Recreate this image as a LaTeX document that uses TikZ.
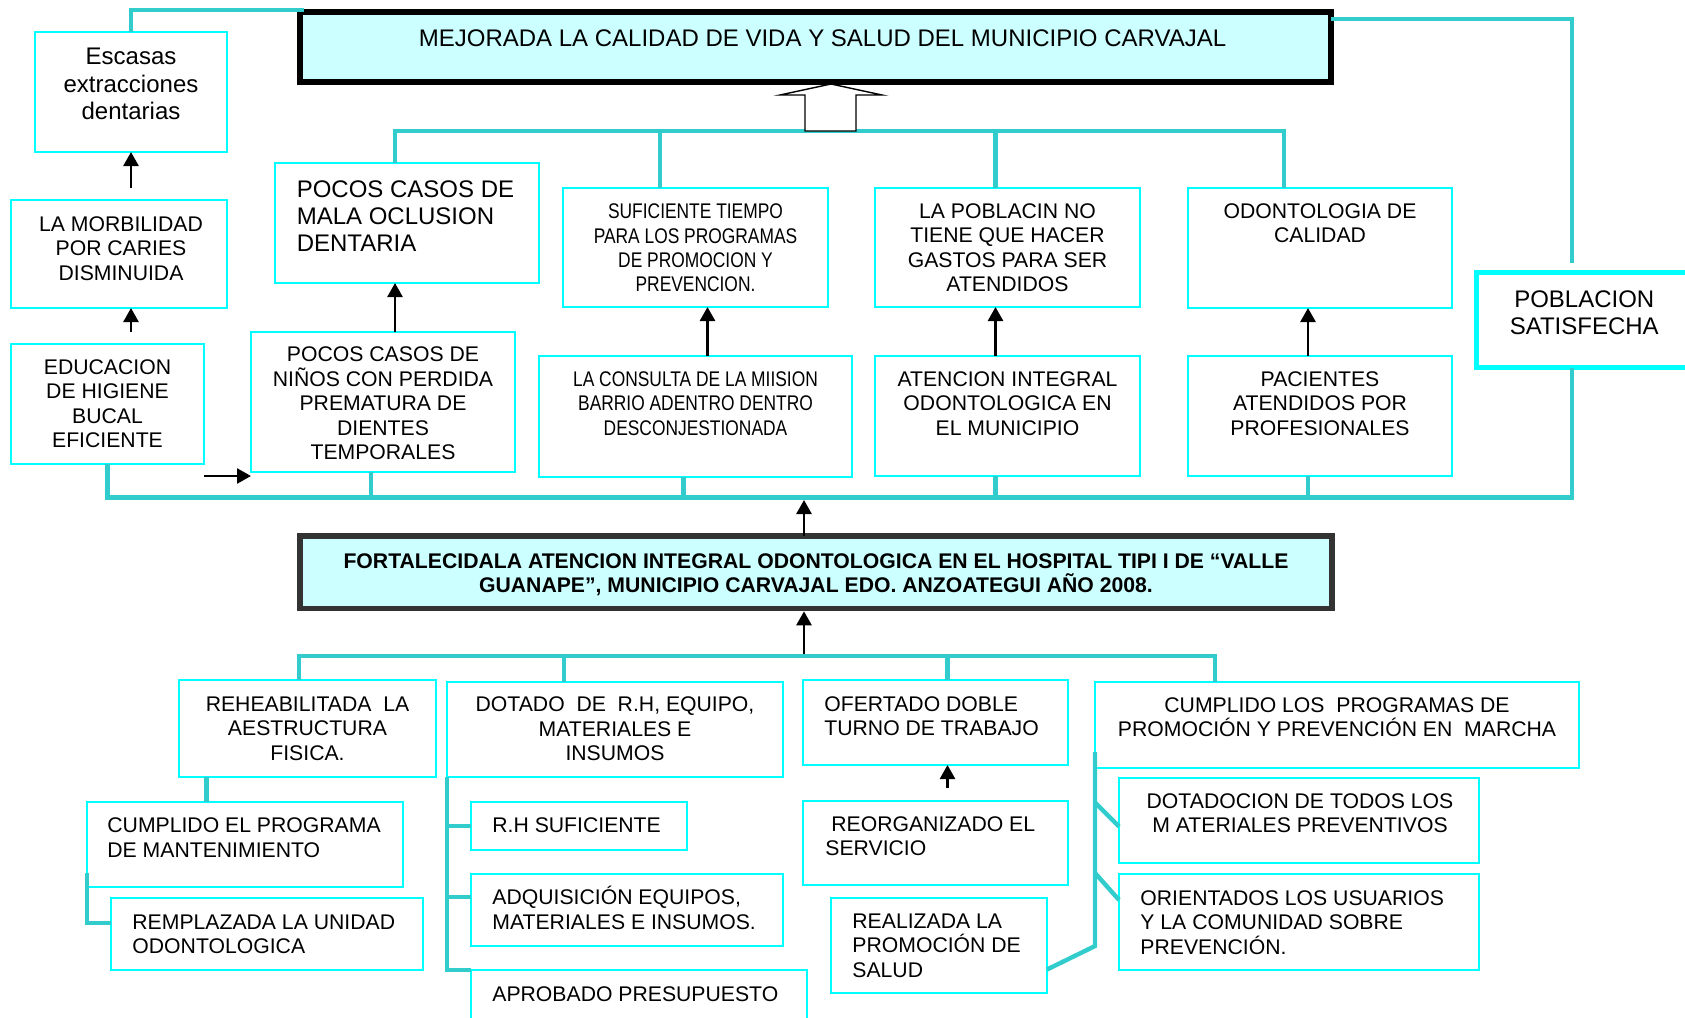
\documentclass[tikz,border=0pt]{standalone}
\usepackage{xcolor}
\definecolor{arbCyan}{HTML}{00FFFF}
\definecolor{arbTeal}{HTML}{33CCCC}
\definecolor{arbIce}{HTML}{CCFFFF}
\definecolor{arbInk}{HTML}{333333}
\usepackage{fontspec}
\setmainfont{Liberation Sans}
\newfontfamily\narrowsf[FakeStretch=0.82]{Liberation Sans}
\usepackage{tikz}
\usetikzlibrary{positioning,arrows.meta,calc}

\begin{document}
\begin{tikzpicture}[
      x=0.5pt, y=-0.5pt,
      every node/.style={font=\fontsize{10.6}{12.2}\selectfont},
      result/.style={rectangle,draw=arbCyan,line width=1pt,inner sep=0pt,
                     outer sep=0pt,anchor=north west},
      goal/.style={result,draw=black,fill=arbIce,line width=3pt},
      purpose/.style={result,draw=arbInk,fill=arbIce,line width=2.8pt},
      sat/.style={result,line width=2.5pt},
      lbl/.style={inner sep=0pt,align=center,anchor=north},
      lbll/.style={inner sep=0pt,align=left,anchor=north west},
      big/.style={font=\fontsize{12}{13.7}\selectfont},
      narrow/.style={font=\narrowsf\fontsize{10.6}{12.2}\selectfont},
      link/.style={draw=arbTeal,line width=2.2pt},
      arr/.style={-{Triangle[length=7pt,width=7.5pt]},line width=1.3pt,black},
      hollow/.style={draw=black,line width=0.7pt,fill=white},
    ]
    \useasboundingbox (0,0) rectangle (1685,1017);
    \clip (0,0) rectangle (1685,1017);

    % Top: the goal
    \node[goal,minimum width=515.5pt,minimum height=35pt] (top) at (300,12) {};
    \node[lbl,big,below=8.6pt of top.north,xshift=3.5pt] (top-t)
      {MEJORADA LA CALIDAD DE VIDA Y SALUD DEL MUNICIPIO CARVAJAL};

    % Left column
    \node[result,minimum width=96pt,minimum height=60pt] (esc) at (35,32) {};
    \node[lbl,big,below=8pt of esc.north] (esc-t) {Escasas\\extracciones\\dentarias};
    \node[result,minimum width=108pt,minimum height=54pt] (mor) at (11,200) {};
    \node[lbl,below=8pt of mor.north,xshift=1pt] (mor-t)
      {LA MORBILIDAD\\POR CARIES\\DISMINUIDA};
    \node[result,minimum width=96.5pt,minimum height=60pt] (edu) at (11,344) {};
    \node[lbl,below=7.6pt of edu.north] (edu-t)
      {EDUCACION\\DE HIGIENE\\BUCAL\\EFICIENTE};

    % Results, upper row
    \node[result,minimum width=132pt,minimum height=60pt] (mal) at (275,163) {};
    \node[lbll,big,below right=8.5pt and 10.7pt of mal.north west] (mal-t)
      {POCOS CASOS DE\\MALA OCLUSION\\DENTARIA};
    \node[result,minimum width=132.5pt,minimum height=59.5pt] (suf) at (563,188) {};
    \node[lbl,narrow,below=7.7pt of suf.north] (suf-t)
      {SUFICIENTE TIEMPO\\PARA LOS PROGRAMAS\\DE PROMOCION Y\\PREVENCION.};
    \node[result,minimum width=132.5pt,minimum height=59.5pt] (pobl) at (875,188) {};
    \node[lbl,below=7.5pt of pobl.north] (pobl-t)
      {LA POBLACIN NO\\TIENE QUE HACER\\GASTOS PARA SER\\ATENDIDOS};
    \node[result,minimum width=132pt,minimum height=60pt] (odo) at (1188,188) {};
    \node[lbl,below=7.5pt of odo.north] (odo-t) {ODONTOLOGIA DE\\CALIDAD};

    % Results, lower row
    \node[result,minimum width=132pt,minimum height=70pt] (nin) at (251,332) {};
    \node[lbl,below=7.3pt of nin.north] (nin-t)
      {POCOS CASOS DE\\NIÑOS CON PERDIDA\\PREMATURA DE\\DIENTES\\TEMPORALES};
    \node[result,minimum width=156.5pt,minimum height=60.5pt] (con) at (539,356) {};
    \node[lbl,narrow,below=7.5pt of con.north] (con-t)
      {LA CONSULTA DE LA MIISION\\BARRIO ADENTRO DENTRO\\DESCONJESTIONADA};
    \node[result,minimum width=132.5pt,minimum height=60pt] (ate) at (875,356) {};
    \node[lbl,below=7.5pt of ate.north] (ate-t)
      {ATENCION INTEGRAL\\ODONTOLOGICA EN\\EL MUNICIPIO};
    \node[result,minimum width=132pt,minimum height=60pt] (pac) at (1188,356) {};
    \node[lbl,below=7.5pt of pac.north] (pac-t)
      {PACIENTES\\ATENDIDOS POR\\PROFESIONALES};
    \node[sat,minimum width=111.75pt,minimum height=47.5pt] (pob) at (1476.5,272.5) {};
    \node[lbl,big,below=8.75pt of pob.north,xshift=-2pt] (pob-t)
      {POBLACION\\SATISFECHA};

    % Middle: the purpose
    \node[purpose,minimum width=516pt,minimum height=36.25pt] (fort) at (300,536) {};
    \node[lbl,below=8.6pt of fort.north,font=\bfseries\fontsize{10.6}{12.2}\selectfont] (fort-t)
      {FORTALECIDALA ATENCION INTEGRAL ODONTOLOGICA EN EL HOSPITAL TIPI I DE “VALLE\\
       GUANAPE”, MUNICIPIO CARVAJAL EDO. ANZOATEGUI AÑO 2008.};

    % Bottom: components and activities
    \node[result,minimum width=128.5pt,minimum height=48.5pt] (reh) at (179,680) {};
    \node[lbl,below=8.3pt of reh.north] (reh-t)
      {REHEABILITADA\ \ LA\\AESTRUCTURA\\FISICA.};
    \node[result,minimum width=158pt,minimum height=42.5pt] (cep) at (87,802) {};
    \node[lbll,below right=7.8pt and 10pt of cep.north west] (cep-t)
      {CUMPLIDO EL PROGRAMA\\DE MANTENIMIENTO};
    \node[result,minimum width=156pt,minimum height=36pt] (rem) at (111,898) {};
    \node[lbll,below right=8.2pt and 10.5pt of rem.north west] (rem-t)
      {REMPLAZADA LA UNIDAD\\ODONTOLOGICA};

    \node[result,minimum width=168pt,minimum height=47.5pt] (dot) at (447,682) {};
    \node[lbl,below=7.3pt of dot.north] (dot-t)
      {DOTADO\ \ DE\ \ R.H, EQUIPO,\\MATERIALES E\\INSUMOS};
    \node[result,minimum width=108pt,minimum height=24pt] (rhs) at (471,802) {};
    \node[lbll,below right=7.8pt and 10.5pt of rhs.north west] (rhs-t) {R.H SUFICIENTE};
    \node[result,minimum width=156pt,minimum height=36pt] (adq) at (471,874) {};
    \node[lbll,below right=6pt and 10.5pt of adq.north west] (adq-t)
      {ADQUISICIÓN EQUIPOS,\\MATERIALES E INSUMOS.};
    \node[result,minimum width=168pt,minimum height=30pt] (apr) at (471,970) {};
    \node[lbll,below right=8pt and 10.5pt of apr.north west] (apr-t) {APROBADO PRESUPUESTO};

    \node[result,minimum width=132.5pt,minimum height=42.5pt] (ofe) at (803,680) {};
    \node[lbll,below right=8pt and 10.5pt of ofe.north west] (ofe-t)
      {OFERTADO DOBLE\\TURNO DE TRABAJO};
    \node[result,minimum width=132.5pt,minimum height=42pt] (reo) at (803,801) {};
    \node[lbll,below right=7.5pt and 11pt of reo.north west] (reo-t)
      {\hspace*{0.28em}REORGANIZADO EL\\SERVICIO};
    \node[result,minimum width=108pt,minimum height=47.5pt] (rea) at (831,898) {};
    \node[lbll,below right=7.6pt and 10.5pt of rea.north west] (rea-t)
      {REALIZADA LA\\PROMOCIÓN DE\\SALUD};

    \node[result,minimum width=242pt,minimum height=43pt] (cls) at (1095,682) {};
    \node[lbl,below=7.6pt of cls.north] (cls-t)
      {CUMPLIDO LOS\ \ PROGRAMAS DE\\PROMOCIÓN Y PREVENCIÓN EN\ \ MARCHA};
    \node[result,minimum width=180pt,minimum height=42.5pt] (dtd) at (1119,778) {};
    \node[lbl,below=7.6pt of dtd.north,xshift=0.5pt] (dtd-t)
      {DOTADOCION DE TODOS LOS\\M ATERIALES PREVENTIVOS};
    \node[result,minimum width=180pt,minimum height=48pt] (ori) at (1119,874) {};
    \node[lbll,below right=8pt and 10.5pt of ori.north west] (ori-t)
      {ORIENTADOS LOS USUARIOS\\Y LA COMUNIDAD SOBRE\\PREVENCIÓN.};

    % Upper tree links
    \draw[link] (esc.north) |- ([xshift=2pt,yshift=1pt]top.north west);
    \draw[link] ([yshift=-3.5pt]top.north east) -| ([xshift=-8pt,yshift=5pt]pob.north);
    \draw[link] ([xshift=-6pt]mal.north) |- ([xshift=-18pt,yshift=28.5pt]odo.north)
                -- ([xshift=-18pt]odo.north);
    \draw[link] ([xshift=-17.75pt]suf.north) -- ([xshift=-17.75pt,yshift=28.5pt]suf.north);
    \draw[link] ([xshift=-6pt]pobl.north) -- ([xshift=-6pt,yshift=28.5pt]pobl.north);
    \draw[hollow] (780,95) -- (831,84) -- (882,95) -- (856,95) -- (856,131)
                  -- (805,131) -- (805,95) -- cycle;

    \draw[link] (edu.south) |- ([xshift=-8pt,yshift=-65pt]pob.south)
                -- ([xshift=-8pt]pob.south);
    \draw[link] ([xshift=-6pt]nin.south) -- ([xshift=-6pt,yshift=-13pt]nin.south);
    \draw[link] ([xshift=-6pt]con.south) -- ([xshift=-6pt,yshift=-10.5pt]con.south);
    \draw[link] ([xshift=-6pt]ate.south) -- ([xshift=-6pt,yshift=-11pt]ate.south);
    \draw[link] ([xshift=-6pt]pac.south) -- ([xshift=-6pt,yshift=-11pt]pac.south);

    % Cause arrows
    \draw[arr,shorten <=6pt] (esc.south |- mor.north) -- (esc.south);
    \draw[arr,shorten <=6pt] (esc.south |- edu.north) -- (esc.south |- mor.south);
    \coordinate (eduR) at ([yshift=-6pt]edu.south east);
    \draw[arr] (eduR) -- (eduR -| nin.west);
    \draw[arr] ([xshift=6pt]nin.north) -- ([xshift=-6pt]mal.south);
    \draw[arr] ([xshift=6pt]con.north) -- ([xshift=6pt]suf.south);
    \draw[arr] ([xshift=-6pt]ate.north) -- ([xshift=-6pt]pobl.south);
    \draw[arr] ([xshift=-6pt]pac.north) -- ([xshift=-6pt]odo.south);
    \draw[arr] ([xshift=-6pt]fort.north) -- ([xshift=-6pt,yshift=18pt]fort.north);
    \draw[arr,shorten >=1.4pt] ([xshift=-6pt,yshift=-24pt]fort.south)
                               -- ([xshift=-6pt]fort.south);

    % Lower tree links
    \draw[link] ([xshift=-4.25pt]reh.north) |- ([xshift=-61pt,yshift=13pt]cls.north)
                -- ([xshift=-61pt]cls.north);
    \draw[link] ([xshift=-25.5pt]dot.north) -- ([xshift=-25.5pt,yshift=13pt]dot.north);
    \draw[link] ([xshift=6pt]ofe.north) -- ([xshift=6pt,yshift=12pt]ofe.north);

    \draw[link] ([xshift=13.75pt]reh.south west) -- ([xshift=13.75pt,yshift=-12.5pt]reh.south west);
    \draw[link] ([yshift=7pt]cep.south west) |- ([yshift=5.5pt]rem.west);

    \draw[link] (dot.south west) |- (apr.north west);
    \draw[link] (dot.south west |- rhs.west) -- (rhs.west);
    \draw[link] ([yshift=6.5pt]adq.west) -- ++(-24,0);

    \draw[arr,shorten <=6.5pt] ([xshift=6pt]reo.north) -- ([xshift=6pt]ofe.south);

    \draw[link] ([yshift=-12pt]rea.east) -- ([yshift=-89pt]cls.south west)
                -- ([yshift=8pt]cls.south west);
    \draw[link] ([xshift=-12pt,yshift=9pt]dtd.west) -- ([yshift=-3pt]dtd.west);
    \draw[link] ([xshift=-12pt,yshift=24.5pt]ori.west) -- ([yshift=11pt]ori.west);

  \end{tikzpicture}
\end{document}
